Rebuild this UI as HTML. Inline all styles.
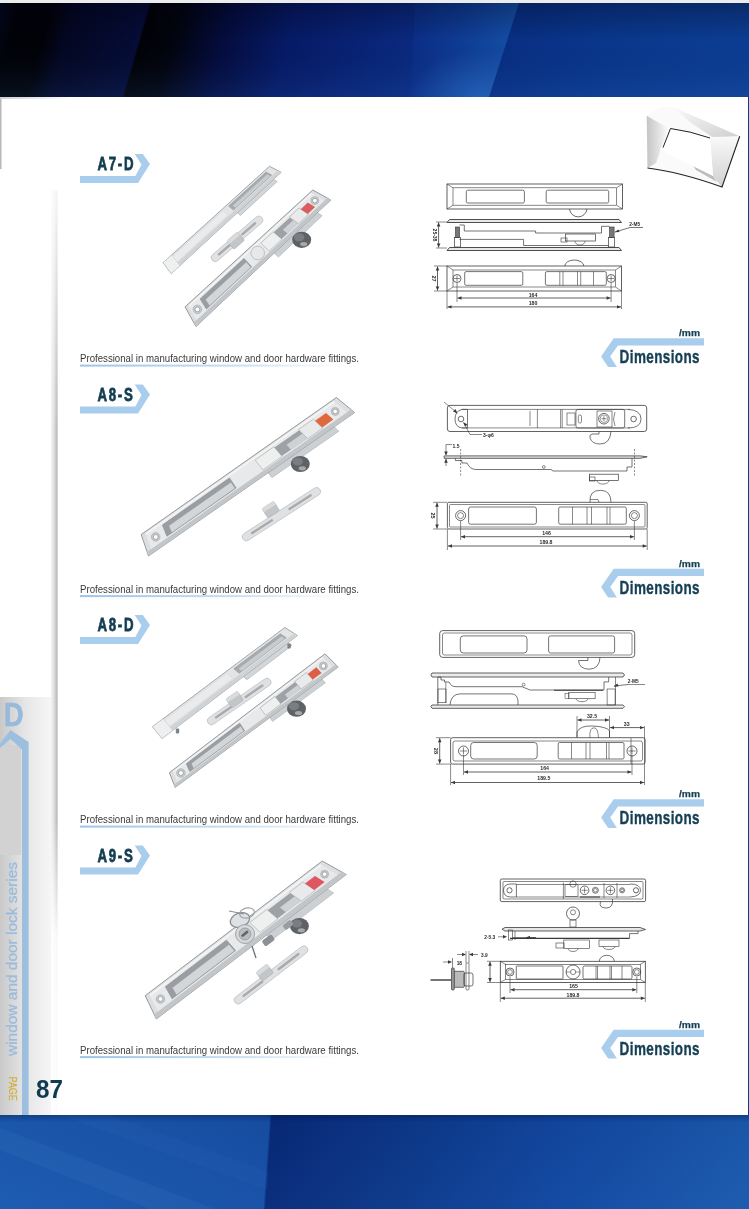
<!DOCTYPE html>
<html><head><meta charset="utf-8">
<style>
html,body{margin:0;padding:0;background:#fff;}
body{width:749px;height:1209px;overflow:hidden;position:relative;}
svg{position:absolute;left:0;top:0;display:block;font-family:"Liberation Sans",sans-serif;will-change:transform;}
</style></head><body>
<svg width="749" height="1209" viewBox="0 0 749 1209" font-family="Liberation Sans, sans-serif">
<defs>
  <linearGradient id="topg" gradientUnits="userSpaceOnUse" x1="0" y1="0" x2="777" y2="0" gradientTransform="skewX(-16)">
    <stop offset="0" stop-color="#040822"/>
    <stop offset="0.026" stop-color="#010207"/>
    <stop offset="0.07" stop-color="#010207"/>
    <stop offset="0.097" stop-color="#030722"/>
    <stop offset="0.193" stop-color="#050c36"/>
    <stop offset="0.196" stop-color="#010206"/>
    <stop offset="0.238" stop-color="#02040e"/>
    <stop offset="0.3" stop-color="#040c3c"/>
    <stop offset="0.386" stop-color="#061a66"/>
    <stop offset="0.553" stop-color="#0a2a80"/>
    <stop offset="0.667" stop-color="#0a2d84"/>
    <stop offset="0.669" stop-color="#082f84"/>
    <stop offset="0.8" stop-color="#0a378c"/>
    <stop offset="1" stop-color="#0c3e94"/>
  </linearGradient>
  <linearGradient id="toplite" gradientUnits="userSpaceOnUse" x1="405" y1="0" x2="519" y2="0">
    <stop offset="0" stop-color="#0a2c84"/>
    <stop offset="0.5" stop-color="#0e3c94"/>
    <stop offset="1" stop-color="#1550a8"/>
  </linearGradient>
  <radialGradient id="litehi">
    <stop offset="0" stop-color="#2d6fc4" stop-opacity="0.55"/>
    <stop offset="1" stop-color="#2d6fc4" stop-opacity="0"/>
  </radialGradient>
  <linearGradient id="topv" x1="0" y1="0" x2="0" y2="1">
    <stop offset="0" stop-color="#000010" stop-opacity="0.3"/>
    <stop offset="0.4" stop-color="#000010" stop-opacity="0"/>
    <stop offset="1" stop-color="#3a7ad0" stop-opacity="0.12"/>
  </linearGradient>
  <linearGradient id="botg" gradientUnits="userSpaceOnUse" x1="0" y1="0" x2="749" y2="0" gradientTransform="translate(0,1115) skewX(-4)">
    <stop offset="0" stop-color="#1c5ab0"/>
    <stop offset="0.2" stop-color="#1a55aa"/>
    <stop offset="0.36" stop-color="#1750a6"/>
    <stop offset="0.363" stop-color="#082a78"/>
    <stop offset="0.5" stop-color="#0c3585"/>
    <stop offset="0.75" stop-color="#1248a0"/>
    <stop offset="1" stop-color="#1c5aae"/>
  </linearGradient>
  <linearGradient id="botv" x1="0" y1="0" x2="0" y2="1">
    <stop offset="0" stop-color="#001040" stop-opacity="0.35"/>
    <stop offset="0.08" stop-color="#001040" stop-opacity="0.05"/>
    <stop offset="1" stop-color="#4080d0" stop-opacity="0.06"/>
  </linearGradient>
  <linearGradient id="gut" x1="0" y1="0" x2="1" y2="0">
    <stop offset="0" stop-color="#f2f2f2"/>
    <stop offset="0.4" stop-color="#e2e2e2"/>
    <stop offset="0.82" stop-color="#bcbcbc"/>
    <stop offset="1" stop-color="#e2e2e2"/>
  </linearGradient>
  <linearGradient id="gutfade" x1="0" y1="0" x2="0" y2="1">
    <stop offset="0" stop-color="#ffffff" stop-opacity="0.85"/>
    <stop offset="1" stop-color="#ffffff" stop-opacity="0"/>
  </linearGradient>
  <linearGradient id="gutfade2" x1="0" y1="0" x2="0" y2="1">
    <stop offset="0" stop-color="#ffffff" stop-opacity="0"/>
    <stop offset="0.4" stop-color="#ffffff" stop-opacity="0.9"/>
    <stop offset="1" stop-color="#ffffff" stop-opacity="0.95"/>
  </linearGradient>
  <linearGradient id="topline" x1="0" y1="0" x2="1" y2="0">
    <stop offset="0" stop-color="#cfcfcf"/>
    <stop offset="1" stop-color="#ffffff"/>
  </linearGradient>
  <linearGradient id="tab" x1="0" y1="0" x2="1" y2="0">
    <stop offset="0" stop-color="#c9c9c9"/>
    <stop offset="0.5" stop-color="#e6e6e6"/>
    <stop offset="1" stop-color="#f6f6f6"/>
  </linearGradient>
  <linearGradient id="uline" x1="0" y1="0" x2="1" y2="0">
    <stop offset="0" stop-color="#9cc4e8"/>
    <stop offset="0.6" stop-color="#c8def2"/>
    <stop offset="1" stop-color="#ffffff"/>
  </linearGradient>
  <linearGradient id="lgL" x1="0" y1="0" x2="1" y2="0">
    <stop offset="0" stop-color="#c4c4c4"/>
    <stop offset="1" stop-color="#fafafa"/>
  </linearGradient>
  <linearGradient id="lgT" x1="0" y1="0" x2="1" y2="1">
    <stop offset="0" stop-color="#fafafa"/>
    <stop offset="1" stop-color="#cfcfcf"/>
  </linearGradient>
  <linearGradient id="lgR" x1="0" y1="0" x2="0" y2="1">
    <stop offset="0" stop-color="#fafafa"/>
    <stop offset="1" stop-color="#d0d0d0"/>
  </linearGradient>
</defs>
<rect x="0" y="0" width="749" height="3" fill="#ececec"/>
<rect x="0" y="3" width="749" height="94" fill="url(#topg)"/>
<polygon points="415,3 519,3 489,97 411,97" fill="url(#toplite)"/>
<clipPath id="liteclip"><polygon points="415,3 519,3 489,97 411,97"/></clipPath>
<ellipse cx="480" cy="95" rx="70" ry="45" fill="url(#litehi)" clip-path="url(#liteclip)"/>
<rect x="0" y="3" width="749" height="94" fill="url(#topv)"/>
<rect x="0" y="97" width="748" height="1018" fill="#ffffff"/>
<rect x="748" y="97" width="1" height="1018" fill="#0b3a8e"/>
<rect x="0" y="1115" width="749" height="94" fill="url(#botg)"/>
<rect x="0" y="1115" width="749" height="94" fill="url(#botv)"/>
<polygon points="0,1128 0,1150 150,1209 215,1209" fill="#5a90d8" opacity="0.10"/>
<polygon points="60,1115 110,1115 269,1172 268,1190" fill="#5a90d8" opacity="0.06"/>
<rect x="0" y="97" width="1.5" height="72" fill="#b8b8b8"/>
<rect x="51" y="190" width="7" height="925" fill="url(#gut)"/>
<rect x="51" y="190" width="8" height="240" fill="url(#gutfade)"/>
<rect x="51" y="820" width="8" height="295" fill="url(#gutfade2)"/>
<rect x="0" y="97" width="70" height="2" fill="url(#topline)"/>
<rect x="0" y="697" width="51" height="418" fill="url(#tab)"/>
<rect x="0" y="745" width="21" height="110" fill="#d2d2d2"/>
<text x="4" y="725.7" font-weight="bold" font-size="32.5" fill="#96b9dc" stroke="#96b9dc" stroke-width="0.6" textLength="19.5" lengthAdjust="spacingAndGlyphs">D</text>
<polygon points="0,743.5 10.4,730 28.6,742 28.6,1115 22,1115 22,749.5 10.4,739 0,748" fill="#9dbfdf"/>
<text transform="translate(17.2,1056) rotate(-90)" font-size="15.5" fill="#98bbdd" stroke="#98bbdd" stroke-width="0.25" textLength="194" lengthAdjust="spacingAndGlyphs">window and door lock series</text>
<text transform="translate(9,1076.6) rotate(90)" font-size="11.5" fill="#d4ae38" stroke="#d4ae38" stroke-width="0.2" textLength="24.2" lengthAdjust="spacingAndGlyphs">PAGE</text>
<text x="36" y="1098" font-weight="bold" font-size="26" fill="#0f3b52" textLength="27" lengthAdjust="spacingAndGlyphs">87</text>

<g transform="translate(0,0)">
  <polygon points="80,176 135.4,176 141.5,164.5 134.7,154 142.8,154 150,164 138,183 80,183" fill="#a9cdec"/>
  <text x="80" y="362" font-size="10" fill="#3a3a3a" textLength="279" lengthAdjust="spacingAndGlyphs">Professional in manufacturing window and door hardware fittings.</text>
  <rect x="80" y="364.6" width="260" height="2" fill="url(#uline)"/>
  <polygon points="704,338.3 613.7,338.3 601.1,356.5 608.1,366.9 616.9,366.9 610.2,356.5 618,345.5 704,345.5" fill="#a9cdec"/>
  <text transform="translate(619.6,363) scale(0.745,1)" font-weight="bold" font-size="18.1" letter-spacing="0.55" fill="#163f55" stroke="#163f55" stroke-width="0.4">Dimensions</text>
  <text x="679" y="336" font-weight="bold" font-size="9.5" fill="#163f55" stroke="#163f55" stroke-width="0.25" textLength="21" lengthAdjust="spacingAndGlyphs">/mm</text>
</g>
<g transform="translate(0,230.5)">
  <polygon points="80,176 135.4,176 141.5,164.5 134.7,154 142.8,154 150,164 138,183 80,183" fill="#a9cdec"/>
  <text x="80" y="362" font-size="10" fill="#3a3a3a" textLength="279" lengthAdjust="spacingAndGlyphs">Professional in manufacturing window and door hardware fittings.</text>
  <rect x="80" y="364.6" width="260" height="2" fill="url(#uline)"/>
  <polygon points="704,338.3 613.7,338.3 601.1,356.5 608.1,366.9 616.9,366.9 610.2,356.5 618,345.5 704,345.5" fill="#a9cdec"/>
  <text transform="translate(619.6,363) scale(0.745,1)" font-weight="bold" font-size="18.1" letter-spacing="0.55" fill="#163f55" stroke="#163f55" stroke-width="0.4">Dimensions</text>
  <text x="679" y="336" font-weight="bold" font-size="9.5" fill="#163f55" stroke="#163f55" stroke-width="0.25" textLength="21" lengthAdjust="spacingAndGlyphs">/mm</text>
</g>
<g transform="translate(0,461)">
  <polygon points="80,176 135.4,176 141.5,164.5 134.7,154 142.8,154 150,164 138,183 80,183" fill="#a9cdec"/>
  <text x="80" y="362" font-size="10" fill="#3a3a3a" textLength="279" lengthAdjust="spacingAndGlyphs">Professional in manufacturing window and door hardware fittings.</text>
  <rect x="80" y="364.6" width="260" height="2" fill="url(#uline)"/>
  <polygon points="704,338.3 613.7,338.3 601.1,356.5 608.1,366.9 616.9,366.9 610.2,356.5 618,345.5 704,345.5" fill="#a9cdec"/>
  <text transform="translate(619.6,363) scale(0.745,1)" font-weight="bold" font-size="18.1" letter-spacing="0.55" fill="#163f55" stroke="#163f55" stroke-width="0.4">Dimensions</text>
  <text x="679" y="336" font-weight="bold" font-size="9.5" fill="#163f55" stroke="#163f55" stroke-width="0.25" textLength="21" lengthAdjust="spacingAndGlyphs">/mm</text>
</g>
<g transform="translate(0,691.5)">
  <polygon points="80,176 135.4,176 141.5,164.5 134.7,154 142.8,154 150,164 138,183 80,183" fill="#a9cdec"/>
  <text x="80" y="362" font-size="10" fill="#3a3a3a" textLength="279" lengthAdjust="spacingAndGlyphs">Professional in manufacturing window and door hardware fittings.</text>
  <rect x="80" y="364.6" width="260" height="2" fill="url(#uline)"/>
  <polygon points="704,338.3 613.7,338.3 601.1,356.5 608.1,366.9 616.9,366.9 610.2,356.5 618,345.5 704,345.5" fill="#a9cdec"/>
  <text transform="translate(619.6,363) scale(0.745,1)" font-weight="bold" font-size="18.1" letter-spacing="0.55" fill="#163f55" stroke="#163f55" stroke-width="0.4">Dimensions</text>
  <text x="679" y="336" font-weight="bold" font-size="9.5" fill="#163f55" stroke="#163f55" stroke-width="0.25" textLength="21" lengthAdjust="spacingAndGlyphs">/mm</text>
</g>
<g font-weight="bold" font-size="18" fill="#143d52" stroke="#143d52" stroke-width="0.75" letter-spacing="2.4">
  <text transform="translate(97.4,170) scale(0.735,1)">A7-D</text>
  <text transform="translate(97.4,400.5) scale(0.735,1)">A8-S</text>
  <text transform="translate(97.4,631) scale(0.735,1)">A8-D</text>
  <text transform="translate(97.4,862) scale(0.735,1)">A9-S</text>
</g>

<g>
  <polygon points="646.7,115.7 660,107 673,107 739.7,136.3 722,187 647.5,168" fill="#fafafa"/>
  <polygon points="673,107 739.7,136.3 712,137 690,122" fill="url(#lgT)"/>
  <polygon points="646.7,115.7 668,128 660,152 656,163 647.5,168" fill="url(#lgL)"/>
  <polygon points="710,138 739.7,136.3 722,187 713,176" fill="url(#lgR)"/>
  <polygon points="688,158 713,176 717,182 696,170" fill="#bdbdbd"/>
  <polygon points="670.5,128.5 710,138 713,176 660,150" fill="#ffffff"/>
  <path d="M647.5,168 Q680,172 722,187 L739.7,136.3" fill="none" stroke="#222" stroke-width="1.1"/>
  <path d="M663,147.6 L670.5,128.5 Q690,131 710,138" fill="none" stroke="#222" stroke-width="1"/>
</g>
<g><rect x="447.0" y="184.0" width="175.5" height="25.0" rx="0" fill="none" stroke="#3a3a3a" stroke-width="0.8"/><rect x="453.0" y="187.8" width="163.5" height="17.4" rx="0" fill="none" stroke="#3a3a3a" stroke-width="0.6"/><line x1="447.0" y1="184.0" x2="453.0" y2="187.8" stroke="#3a3a3a" stroke-width="0.6"/><line x1="622.5" y1="184.0" x2="616.5" y2="187.8" stroke="#3a3a3a" stroke-width="0.6"/><line x1="447.0" y1="209.0" x2="453.0" y2="205.2" stroke="#3a3a3a" stroke-width="0.6"/><line x1="622.5" y1="209.0" x2="616.5" y2="205.2" stroke="#3a3a3a" stroke-width="0.6"/><rect x="466.3" y="190.2" width="58.1" height="12.8" rx="1.5" fill="none" stroke="#3a3a3a" stroke-width="0.7"/><rect x="546.2" y="190.2" width="62.5" height="12.8" rx="1.5" fill="none" stroke="#3a3a3a" stroke-width="0.7"/><path d="M569.5,209 A8.8,8.8 0 0 0 587,209" fill="none" stroke="#3a3a3a" stroke-width="0.75"/><path d="M447,222.5 L449.5,219.5 L619,219.5 L621.5,222.5 Z" fill="#e8e8e8" stroke="#3a3a3a" stroke-width="0.9"/><path d="M447,250.5 L449.5,247.5 L619,247.5 L621.5,250.5 Z" fill="#e8e8e8" stroke="#3a3a3a" stroke-width="0.9"/><rect x="455.4" y="227.0" width="4.2" height="10.5" rx="0" fill="#777" stroke="#3a3a3a" stroke-width="0.6"/><rect x="454.5" y="237.5" width="6.0" height="9.5" rx="0" fill="none" stroke="#3a3a3a" stroke-width="0.7"/><rect x="609.5" y="227.0" width="4.6" height="10.5" rx="0" fill="#777" stroke="#3a3a3a" stroke-width="0.6"/><rect x="608.5" y="237.5" width="6.0" height="9.5" rx="0" fill="none" stroke="#3a3a3a" stroke-width="0.7"/><path d="M459.5,225 L464.3,225 L464.3,231 L535.6,231 L535.6,233 L601.5,233 L601.5,226.3 L609.5,226.3" fill="none" stroke="#3a3a3a" stroke-width="0.7"/><path d="M459.5,239.4 L523.6,239.4 L523.6,245.5 L608.5,245.5" fill="none" stroke="#3a3a3a" stroke-width="0.7"/><rect x="565.4" y="234.0" width="30.0" height="7.0" rx="0" fill="none" stroke="#3a3a3a" stroke-width="0.7"/><rect x="561.0" y="238.0" width="6.0" height="4.0" rx="0" fill="none" stroke="#3a3a3a" stroke-width="0.6"/><path d="M575,241 A5,4 0 0 0 585,241" fill="none" stroke="#3a3a3a" stroke-width="0.6"/><line x1="436.0" y1="222.0" x2="447.0" y2="222.0" stroke="#3a3a3a" stroke-width="0.6"/><line x1="436.0" y1="248.0" x2="447.0" y2="248.0" stroke="#3a3a3a" stroke-width="0.6"/><line x1="438.6" y1="222.5" x2="438.6" y2="247.5" stroke="#3a3a3a" stroke-width="0.8"/><polygon points="438.6,222.5 436.8,226.5 440.4,226.5" fill="#3a3a3a"/><polygon points="438.6,247.5 436.8,243.5 440.4,243.5" fill="#3a3a3a"/><text transform="translate(432.6,235.0) rotate(90)" font-size="5" font-weight="bold" text-anchor="middle" fill="#2a2a2a">25-38</text><line x1="615.0" y1="232.0" x2="630.0" y2="227.5" stroke="#3a3a3a" stroke-width="0.7"/><line x1="630.0" y1="227.5" x2="643.0" y2="227.5" stroke="#3a3a3a" stroke-width="0.7"/><polygon points="614.5,232.3 618.5,229.6 619.5,232" fill="#3a3a3a"/><text x="629.2" y="226.0" font-size="4.8" font-weight="bold" text-anchor="start" fill="#2a2a2a">2-M5</text><rect x="447.0" y="266.0" width="174.5" height="25.0" rx="0" fill="none" stroke="#3a3a3a" stroke-width="0.8"/><rect x="453.0" y="270.0" width="162.5" height="17.0" rx="0" fill="none" stroke="#3a3a3a" stroke-width="0.6"/><line x1="447.0" y1="266.0" x2="453.0" y2="270.0" stroke="#3a3a3a" stroke-width="0.6"/><line x1="621.5" y1="266.0" x2="615.5" y2="270.0" stroke="#3a3a3a" stroke-width="0.6"/><line x1="447.0" y1="291.0" x2="453.0" y2="287.0" stroke="#3a3a3a" stroke-width="0.6"/><line x1="621.5" y1="291.0" x2="615.5" y2="287.0" stroke="#3a3a3a" stroke-width="0.6"/><circle cx="457.0" cy="278.5" r="4.0" fill="none" stroke="#3a3a3a" stroke-width="0.75"/><line x1="454.0" y1="278.5" x2="460.0" y2="278.5" stroke="#3a3a3a" stroke-width="0.6"/><line x1="457.0" y1="275.5" x2="457.0" y2="281.5" stroke="#3a3a3a" stroke-width="0.6"/><circle cx="611.1" cy="278.5" r="4.0" fill="none" stroke="#3a3a3a" stroke-width="0.75"/><line x1="608.1" y1="278.5" x2="614.1" y2="278.5" stroke="#3a3a3a" stroke-width="0.6"/><line x1="611.1" y1="275.5" x2="611.1" y2="281.5" stroke="#3a3a3a" stroke-width="0.6"/><rect x="464.7" y="271.6" width="58.1" height="13.7" rx="1.5" fill="none" stroke="#3a3a3a" stroke-width="0.7"/><rect x="545.4" y="271.6" width="60.9" height="13.7" rx="1.5" fill="none" stroke="#3a3a3a" stroke-width="0.7"/><line x1="559.8" y1="271.6" x2="559.8" y2="285.3" stroke="#3a3a3a" stroke-width="0.6"/><line x1="563.0" y1="271.6" x2="563.0" y2="285.3" stroke="#3a3a3a" stroke-width="0.6"/><line x1="577.5" y1="271.6" x2="577.5" y2="285.3" stroke="#3a3a3a" stroke-width="0.6"/><line x1="580.7" y1="271.6" x2="580.7" y2="285.3" stroke="#3a3a3a" stroke-width="0.6"/><line x1="593.5" y1="271.6" x2="593.5" y2="285.3" stroke="#3a3a3a" stroke-width="0.6"/><path d="M564.8,266 A9.5,6 0 0 1 583.8,266" fill="none" stroke="#3a3a3a" stroke-width="0.75"/><line x1="434.0" y1="266.0" x2="447.0" y2="266.0" stroke="#3a3a3a" stroke-width="0.6"/><line x1="434.0" y1="291.0" x2="447.0" y2="291.0" stroke="#3a3a3a" stroke-width="0.6"/><line x1="437.5" y1="266.5" x2="437.5" y2="290.5" stroke="#3a3a3a" stroke-width="0.8"/><polygon points="437.5,266.5 435.7,270.5 439.3,270.5" fill="#3a3a3a"/><polygon points="437.5,290.5 435.7,286.5 439.3,286.5" fill="#3a3a3a"/><text transform="translate(431.5,278.5) rotate(90)" font-size="5.5" font-weight="bold" text-anchor="middle" fill="#2a2a2a">27</text><line x1="457.0" y1="283.0" x2="457.0" y2="302.0" stroke="#3a3a3a" stroke-width="0.6"/><line x1="611.1" y1="283.0" x2="611.1" y2="302.0" stroke="#3a3a3a" stroke-width="0.6"/><line x1="457.5" y1="298.0" x2="610.6" y2="298.0" stroke="#3a3a3a" stroke-width="0.8"/><polygon points="457.5,298.0 461.5,296.3 461.5,299.7" fill="#3a3a3a"/><polygon points="610.6,298.0 606.6,296.3 606.6,299.7" fill="#3a3a3a"/><text x="533.0" y="296.5" font-size="5.2" font-weight="bold" text-anchor="middle" fill="#2a2a2a">164</text><line x1="447.0" y1="291.0" x2="447.0" y2="309.0" stroke="#3a3a3a" stroke-width="0.6"/><line x1="621.5" y1="291.0" x2="621.5" y2="309.0" stroke="#3a3a3a" stroke-width="0.6"/><line x1="447.5" y1="306.9" x2="621.0" y2="306.9" stroke="#3a3a3a" stroke-width="0.8"/><polygon points="447.5,306.9 451.5,305.2 451.5,308.6" fill="#3a3a3a"/><polygon points="621.0,306.9 617.0,305.2 617.0,308.6" fill="#3a3a3a"/><text x="533.0" y="305.0" font-size="5.2" font-weight="bold" text-anchor="middle" fill="#2a2a2a">180</text><rect x="447.4" y="405.4" width="199.3" height="26.1" rx="2.5" fill="none" stroke="#3a3a3a" stroke-width="0.8"/><line x1="462.0" y1="409.4" x2="630.0" y2="409.4" stroke="#3a3a3a" stroke-width="0.6"/><line x1="462.0" y1="427.9" x2="630.0" y2="427.9" stroke="#3a3a3a" stroke-width="0.6"/><path d="M467.5,409.4 L462,409.4 Q455,411 455,419 Q455,427 462,428 L467.5,428 Z" fill="none" stroke="#3a3a3a" stroke-width="0.7"/><circle cx="461.0" cy="419.0" r="2.8" fill="none" stroke="#3a3a3a" stroke-width="0.75"/><path d="M628,409.4 Q641,410 641,419 Q641,428 628,428" fill="none" stroke="#3a3a3a" stroke-width="0.7"/><circle cx="633.6" cy="419.0" r="2.8" fill="none" stroke="#3a3a3a" stroke-width="0.75"/><line x1="530.0" y1="411.0" x2="530.0" y2="426.0" stroke="#3a3a3a" stroke-width="0.6"/><line x1="537.4" y1="409.4" x2="537.4" y2="428.0" stroke="#3a3a3a" stroke-width="0.6"/><line x1="560.6" y1="409.4" x2="560.6" y2="428.0" stroke="#3a3a3a" stroke-width="0.6"/><line x1="562.2" y1="409.4" x2="562.2" y2="428.0" stroke="#3a3a3a" stroke-width="0.6"/><rect x="567.0" y="413.0" width="8.0" height="12.0" rx="0" fill="none" stroke="#3a3a3a" stroke-width="0.6"/><rect x="575.9" y="409.4" width="48.8" height="18.6" rx="2" fill="none" stroke="#3a3a3a" stroke-width="0.7"/><rect x="578.3" y="415.0" width="3.2" height="8.0" rx="1.5" fill="none" stroke="#3a3a3a" stroke-width="0.6"/><rect x="597.0" y="411.0" width="15.0" height="16.0" rx="0" fill="none" stroke="#3a3a3a" stroke-width="0.6"/><circle cx="603.9" cy="418.7" r="5.3" fill="none" stroke="#3a3a3a" stroke-width="0.75"/><circle cx="603.9" cy="418.7" r="3.8" fill="none" stroke="#3a3a3a" stroke-width="0.5"/><line x1="601.4" y1="418.7" x2="606.4" y2="418.7" stroke="#3a3a3a" stroke-width="0.6"/><line x1="603.9" y1="416.2" x2="603.9" y2="421.2" stroke="#3a3a3a" stroke-width="0.6"/><path d="M615,412 Q612,419 615,426" fill="none" stroke="#3a3a3a" stroke-width="0.6"/><path d="M599,431.5 L599,434 L592,434 Q589,435 590,438 Q592,444 600,444 Q610,444 611,431.5" fill="none" stroke="#3a3a3a" stroke-width="0.7"/><line x1="444.0" y1="402.0" x2="456.0" y2="412.0" stroke="#3a3a3a" stroke-width="0.6"/><polygon points="457.5,413.5 453,411.5 455.5,409" fill="#3a3a3a"/><line x1="464.0" y1="423.0" x2="470.0" y2="434.5" stroke="#3a3a3a" stroke-width="0.6"/><line x1="470.0" y1="434.5" x2="482.0" y2="434.5" stroke="#3a3a3a" stroke-width="0.6"/><polygon points="463,422 467.5,424.5 465,426.5" fill="#3a3a3a"/><text x="483.0" y="437.0" font-size="5" font-weight="bold" text-anchor="start" fill="#2a2a2a">3-φ6</text><path d="M444.2,455.9 L640,455.9 L647.2,456.8 L640,458.3 L444.2,458.3 Z" fill="#e6e6e6" stroke="#3a3a3a" stroke-width="0.8"/><path d="M455.4,458.3 L455.4,460.5 L461.9,460.5 L461.9,463 L467,463 Q470,469.5 476,469.5 L551,469.5 L553,471 L627,471 L627,467 L632,467 L632,458.3" fill="none" stroke="#3a3a3a" stroke-width="0.7"/><path d="M460.6,449 L460.6,476" fill="none" stroke="#3a3a3a" stroke-width="0.6" stroke-dasharray="2,1.5"/><path d="M634.5,449 L634.5,476" fill="none" stroke="#3a3a3a" stroke-width="0.6" stroke-dasharray="2,1.5"/><circle cx="543.8" cy="467.0" r="1.4" fill="none" stroke="#3a3a3a" stroke-width="0.6"/><rect x="589.5" y="474.2" width="28.8" height="6.4" rx="0" fill="none" stroke="#3a3a3a" stroke-width="0.7"/><rect x="589.5" y="477.0" width="5.5" height="4.0" rx="0" fill="none" stroke="#3a3a3a" stroke-width="0.6"/><path d="M597,480.6 A6,3.5 0 0 0 609,480.6" fill="none" stroke="#3a3a3a" stroke-width="0.6"/><line x1="446.0" y1="449.0" x2="446.0" y2="455.0" stroke="#3a3a3a" stroke-width="0.6"/><polygon points="446.0,455.5 444.2,451.5 447.8,451.5" fill="#3a3a3a"/><line x1="446.0" y1="458.8" x2="446.0" y2="466.0" stroke="#3a3a3a" stroke-width="0.6"/><polygon points="446.0,458.8 444.2,462.8 447.8,462.8" fill="#3a3a3a"/><line x1="446.0" y1="444.5" x2="452.0" y2="444.5" stroke="#3a3a3a" stroke-width="0.6"/><line x1="446.0" y1="444.5" x2="446.0" y2="449.0" stroke="#3a3a3a" stroke-width="0.6"/><text x="452.5" y="447.5" font-size="5" font-weight="bold" text-anchor="start" fill="#2a2a2a">1.5</text><rect x="447.4" y="502.3" width="199.8" height="26.7" rx="1.5" fill="none" stroke="#3a3a3a" stroke-width="0.8"/><rect x="449.5" y="504.5" width="195.5" height="22.5" rx="1" fill="none" stroke="#3a3a3a" stroke-width="0.6"/><circle cx="460.6" cy="515.6" r="5.0" fill="none" stroke="#3a3a3a" stroke-width="0.75"/><circle cx="460.6" cy="515.6" r="3.0" fill="none" stroke="#3a3a3a" stroke-width="0.6"/><circle cx="634.4" cy="515.6" r="5.0" fill="none" stroke="#3a3a3a" stroke-width="0.75"/><circle cx="634.4" cy="515.6" r="3.0" fill="none" stroke="#3a3a3a" stroke-width="0.6"/><rect x="468.6" y="507.0" width="67.8" height="17.2" rx="2" fill="none" stroke="#3a3a3a" stroke-width="0.7"/><rect x="558.7" y="507.0" width="67.6" height="17.2" rx="1.5" fill="none" stroke="#3a3a3a" stroke-width="0.7"/><line x1="572.5" y1="507.0" x2="572.5" y2="524.2" stroke="#3a3a3a" stroke-width="0.6"/><line x1="587.0" y1="507.0" x2="587.0" y2="524.2" stroke="#3a3a3a" stroke-width="0.6"/><line x1="591.5" y1="507.0" x2="591.5" y2="524.2" stroke="#3a3a3a" stroke-width="0.6"/><line x1="607.0" y1="507.0" x2="607.0" y2="524.2" stroke="#3a3a3a" stroke-width="0.6"/><line x1="610.0" y1="507.0" x2="610.0" y2="524.2" stroke="#3a3a3a" stroke-width="0.6"/><path d="M590,502.3 Q589,490 600.7,490.3 Q611,490.5 611,502.3" fill="none" stroke="#3a3a3a" stroke-width="0.7"/><path d="M590,499.5 L598,499.5 L599,502.3" fill="none" stroke="#3a3a3a" stroke-width="0.6"/><line x1="433.0" y1="502.3" x2="447.0" y2="502.3" stroke="#3a3a3a" stroke-width="0.6"/><line x1="433.0" y1="529.0" x2="447.0" y2="529.0" stroke="#3a3a3a" stroke-width="0.6"/><line x1="437.0" y1="502.8" x2="437.0" y2="528.5" stroke="#3a3a3a" stroke-width="0.8"/><polygon points="437.0,502.8 435.2,506.8 438.8,506.8" fill="#3a3a3a"/><polygon points="437.0,528.5 435.2,524.5 438.8,524.5" fill="#3a3a3a"/><text transform="translate(431.0,515.6) rotate(90)" font-size="5.5" font-weight="bold" text-anchor="middle" fill="#2a2a2a">25</text><line x1="460.6" y1="521.0" x2="460.6" y2="540.0" stroke="#3a3a3a" stroke-width="0.6"/><line x1="634.4" y1="521.0" x2="634.4" y2="540.0" stroke="#3a3a3a" stroke-width="0.6"/><line x1="461.0" y1="536.7" x2="634.0" y2="536.7" stroke="#3a3a3a" stroke-width="0.8"/><polygon points="461.0,536.7 465.0,535.0 465.0,538.4" fill="#3a3a3a"/><polygon points="634.0,536.7 630.0,535.0 630.0,538.4" fill="#3a3a3a"/><text x="546.5" y="534.6" font-size="5.2" font-weight="bold" text-anchor="middle" fill="#2a2a2a">146</text><line x1="447.4" y1="529.0" x2="447.4" y2="550.0" stroke="#3a3a3a" stroke-width="0.6"/><line x1="647.2" y1="529.0" x2="647.2" y2="550.0" stroke="#3a3a3a" stroke-width="0.6"/><line x1="448.0" y1="546.0" x2="646.7" y2="546.0" stroke="#3a3a3a" stroke-width="0.8"/><polygon points="448.0,546.0 452.0,544.3 452.0,547.7" fill="#3a3a3a"/><polygon points="646.7,546.0 642.7,544.3 642.7,547.7" fill="#3a3a3a"/><text x="546.0" y="544.0" font-size="5.2" font-weight="bold" text-anchor="middle" fill="#2a2a2a">189.8</text><rect x="439.7" y="630.6" width="195.0" height="26.8" rx="3" fill="none" stroke="#3a3a3a" stroke-width="0.8"/><rect x="442.5" y="633.0" width="189.5" height="22.0" rx="2" fill="none" stroke="#3a3a3a" stroke-width="0.6"/><rect x="460.3" y="635.9" width="66.7" height="17.1" rx="3" fill="none" stroke="#3a3a3a" stroke-width="0.7"/><rect x="548.6" y="635.9" width="66.0" height="17.1" rx="2" fill="none" stroke="#3a3a3a" stroke-width="0.7"/><path d="M587.9,657.4 L587.9,660.5 L578.5,660.5 Q579,669 589,669.2 Q599.5,669 600,657.4" fill="none" stroke="#3a3a3a" stroke-width="0.7"/><path d="M432,673 L623,673 L624.5,675 L623,677 L432,677 Q429.8,675 432,673 Z" fill="#ececec" stroke="#3a3a3a" stroke-width="0.8"/><path d="M432,705 L623,705 L624.5,706.6 L623,708.3 L432,708.3 Q429.8,706.6 432,705 Z" fill="#ececec" stroke="#3a3a3a" stroke-width="0.8"/><line x1="437.8" y1="677.0" x2="437.8" y2="705.0" stroke="#3a3a3a" stroke-width="0.7"/><rect x="438.0" y="689.0" width="8.0" height="13.7" rx="0" fill="none" stroke="#3a3a3a" stroke-width="0.6"/><path d="M438,677 L441,677 L441,680 L444.5,680 L444.5,682 L449,682 Q451,686.7 456,686.7 L522,686.7 L530,690 L604,690 L604,681.9 L608.7,681.9 L608.7,677" fill="none" stroke="#3a3a3a" stroke-width="0.7"/><line x1="445.8" y1="682.0" x2="445.8" y2="703.0" stroke="#3a3a3a" stroke-width="0.6"/><circle cx="523.6" cy="684.6" r="1.4" fill="none" stroke="#3a3a3a" stroke-width="0.6"/><path d="M450,705 Q451,694 460,693.9 L512,693.9 Q518,694.5 518,702 L518,705" fill="none" stroke="#3a3a3a" stroke-width="0.7"/><line x1="554.0" y1="690.3" x2="603.0" y2="690.3" stroke="#3a3a3a" stroke-width="1.1"/><rect x="568.7" y="692.3" width="26.4" height="6.4" rx="0" fill="none" stroke="#3a3a3a" stroke-width="0.6"/><rect x="565.0" y="693.5" width="4.0" height="5.0" rx="0" fill="none" stroke="#3a3a3a" stroke-width="0.5"/><path d="M576,698.7 A6,3 0 0 0 588,698.7" fill="none" stroke="#3a3a3a" stroke-width="0.6"/><rect x="607.1" y="689.0" width="8.0" height="16.0" rx="0" fill="none" stroke="#3a3a3a" stroke-width="0.6"/><line x1="615.5" y1="677.0" x2="615.5" y2="705.0" stroke="#3a3a3a" stroke-width="0.6"/><line x1="614.0" y1="686.0" x2="628.0" y2="684.5" stroke="#3a3a3a" stroke-width="0.7"/><line x1="628.0" y1="684.5" x2="645.0" y2="684.5" stroke="#3a3a3a" stroke-width="0.6"/><polygon points="613.5,686.5 617.5,683.5 618.5,686.5" fill="#3a3a3a"/><text x="627.8" y="683.0" font-size="4.8" font-weight="bold" text-anchor="start" fill="#2a2a2a">2-M5</text><rect x="450.6" y="737.7" width="194.5" height="26.4" rx="2" fill="none" stroke="#3a3a3a" stroke-width="0.8"/><rect x="453.0" y="741.0" width="189.5" height="20.0" rx="2" fill="none" stroke="#3a3a3a" stroke-width="0.6"/><line x1="631.0" y1="738.0" x2="631.0" y2="764.0" stroke="#3a3a3a" stroke-width="0.6"/><circle cx="463.5" cy="751.0" r="5.0" fill="none" stroke="#3a3a3a" stroke-width="0.75"/><line x1="460.0" y1="751.0" x2="467.0" y2="751.0" stroke="#3a3a3a" stroke-width="0.6"/><line x1="463.5" y1="747.5" x2="463.5" y2="754.5" stroke="#3a3a3a" stroke-width="0.6"/><circle cx="632.0" cy="751.0" r="5.0" fill="none" stroke="#3a3a3a" stroke-width="0.75"/><line x1="628.5" y1="751.0" x2="635.5" y2="751.0" stroke="#3a3a3a" stroke-width="0.6"/><line x1="632.0" y1="747.5" x2="632.0" y2="754.5" stroke="#3a3a3a" stroke-width="0.6"/><rect x="470.7" y="742.5" width="66.5" height="16.5" rx="3" fill="none" stroke="#3a3a3a" stroke-width="0.7"/><rect x="558.2" y="742.5" width="65.8" height="16.5" rx="1.5" fill="none" stroke="#3a3a3a" stroke-width="0.7"/><line x1="571.5" y1="742.5" x2="571.5" y2="759.0" stroke="#3a3a3a" stroke-width="0.6"/><line x1="586.0" y1="742.5" x2="586.0" y2="759.0" stroke="#3a3a3a" stroke-width="0.6"/><line x1="590.0" y1="742.5" x2="590.0" y2="759.0" stroke="#3a3a3a" stroke-width="0.6"/><line x1="606.5" y1="742.5" x2="606.5" y2="759.0" stroke="#3a3a3a" stroke-width="0.6"/><line x1="609.0" y1="742.5" x2="609.0" y2="759.0" stroke="#3a3a3a" stroke-width="0.6"/><path d="M577,737.7 L577,732 Q580,725.5 592,726 Q607,726.5 609.5,731 L609.5,737.7" fill="none" stroke="#3a3a3a" stroke-width="0.7"/><path d="M590,737.7 Q589,728 594,727.8 Q598,728 598.5,737.7" fill="none" stroke="#3a3a3a" stroke-width="0.6"/><line x1="436.0" y1="737.7" x2="450.6" y2="737.7" stroke="#3a3a3a" stroke-width="0.6"/><line x1="436.0" y1="764.1" x2="450.6" y2="764.1" stroke="#3a3a3a" stroke-width="0.6"/><line x1="439.7" y1="738.2" x2="439.7" y2="763.6" stroke="#3a3a3a" stroke-width="0.8"/><polygon points="439.7,738.2 437.9,742.2 441.5,742.2" fill="#3a3a3a"/><polygon points="439.7,763.6 437.9,759.6 441.5,759.6" fill="#3a3a3a"/><text transform="translate(433.7,750.9) rotate(90)" font-size="5.5" font-weight="bold" text-anchor="middle" fill="#2a2a2a">28</text><line x1="463.5" y1="755.0" x2="463.5" y2="775.0" stroke="#3a3a3a" stroke-width="0.6"/><line x1="632.0" y1="755.0" x2="632.0" y2="775.0" stroke="#3a3a3a" stroke-width="0.6"/><line x1="464.0" y1="772.0" x2="631.5" y2="772.0" stroke="#3a3a3a" stroke-width="0.8"/><polygon points="464.0,772.0 468.0,770.3 468.0,773.7" fill="#3a3a3a"/><polygon points="631.5,772.0 627.5,770.3 627.5,773.7" fill="#3a3a3a"/><text x="544.6" y="770.3" font-size="5.2" font-weight="bold" text-anchor="middle" fill="#2a2a2a">164</text><line x1="450.6" y1="764.0" x2="450.6" y2="785.0" stroke="#3a3a3a" stroke-width="0.6"/><line x1="644.5" y1="726.0" x2="644.5" y2="785.0" stroke="#3a3a3a" stroke-width="0.6"/><line x1="451.0" y1="782.5" x2="644.0" y2="782.5" stroke="#3a3a3a" stroke-width="0.8"/><polygon points="451.0,782.5 455.0,780.8 455.0,784.2" fill="#3a3a3a"/><polygon points="644.0,782.5 640.0,780.8 640.0,784.2" fill="#3a3a3a"/><text x="543.8" y="780.3" font-size="5.2" font-weight="bold" text-anchor="middle" fill="#2a2a2a">189.5</text><line x1="577.0" y1="716.0" x2="577.0" y2="737.0" stroke="#3a3a3a" stroke-width="0.6"/><line x1="609.5" y1="716.0" x2="609.5" y2="737.0" stroke="#3a3a3a" stroke-width="0.6"/><line x1="577.5" y1="720.0" x2="609.0" y2="720.0" stroke="#3a3a3a" stroke-width="0.8"/><polygon points="577.5,720.0 581.5,718.3 581.5,721.7" fill="#3a3a3a"/><polygon points="609.0,720.0 605.0,718.3 605.0,721.7" fill="#3a3a3a"/><text x="592.0" y="717.6" font-size="5.2" font-weight="bold" text-anchor="middle" fill="#2a2a2a">32.5</text><line x1="610.0" y1="727.6" x2="644.0" y2="727.6" stroke="#3a3a3a" stroke-width="0.8"/><polygon points="610.0,727.6 614.0,725.9 614.0,729.3" fill="#3a3a3a"/><polygon points="644.0,727.6 640.0,725.9 640.0,729.3" fill="#3a3a3a"/><text x="626.7" y="725.5" font-size="5.2" font-weight="bold" text-anchor="middle" fill="#2a2a2a">33</text><rect x="500.3" y="879.0" width="145.3" height="22.6" rx="1.5" fill="none" stroke="#3a3a3a" stroke-width="0.8"/><rect x="503.0" y="881.5" width="140.0" height="17.5" rx="1" fill="none" stroke="#3a3a3a" stroke-width="0.6"/><line x1="516.4" y1="884.5" x2="630.0" y2="884.5" stroke="#3a3a3a" stroke-width="0.6"/><line x1="516.4" y1="897.0" x2="630.0" y2="897.0" stroke="#3a3a3a" stroke-width="0.6"/><path d="M516.4,884 L510,884 Q503.5,884.5 503.5,890.3 Q503.5,896.5 510,897 L516.4,897 Z" fill="none" stroke="#3a3a3a" stroke-width="0.7"/><circle cx="509.5" cy="890.3" r="2.6" fill="none" stroke="#3a3a3a" stroke-width="0.75"/><path d="M630,884 Q640.5,884 640.5,890.3 Q640.5,896.5 630,897" fill="none" stroke="#3a3a3a" stroke-width="0.7"/><circle cx="636.0" cy="890.3" r="2.6" fill="none" stroke="#3a3a3a" stroke-width="0.75"/><line x1="563.4" y1="882.5" x2="563.4" y2="899.0" stroke="#3a3a3a" stroke-width="0.6"/><rect x="565.0" y="884.5" width="13.0" height="12.0" rx="1" fill="none" stroke="#3a3a3a" stroke-width="0.6"/><circle cx="573.0" cy="884.0" r="3.2" fill="none" stroke="#3a3a3a" stroke-width="0.6"/><circle cx="584.6" cy="890.3" r="4.3" fill="none" stroke="#3a3a3a" stroke-width="0.75"/><line x1="581.6" y1="890.3" x2="587.6" y2="890.3" stroke="#3a3a3a" stroke-width="0.6"/><line x1="584.6" y1="887.3" x2="584.6" y2="893.3" stroke="#3a3a3a" stroke-width="0.6"/><circle cx="595.4" cy="890.3" r="3.0" fill="none" stroke="#3a3a3a" stroke-width="0.7"/><circle cx="595.4" cy="890.3" r="1.8" fill="none" stroke="#3a3a3a" stroke-width="0.6"/><line x1="604.0" y1="883.0" x2="604.0" y2="898.0" stroke="#3a3a3a" stroke-width="0.6"/><line x1="617.0" y1="883.0" x2="617.0" y2="898.0" stroke="#3a3a3a" stroke-width="0.6"/><circle cx="610.4" cy="890.3" r="4.3" fill="none" stroke="#3a3a3a" stroke-width="0.75"/><line x1="607.4" y1="890.3" x2="613.4" y2="890.3" stroke="#3a3a3a" stroke-width="0.6"/><line x1="610.4" y1="887.3" x2="610.4" y2="893.3" stroke="#3a3a3a" stroke-width="0.6"/><circle cx="622.1" cy="890.3" r="2.5" fill="none" stroke="#3a3a3a" stroke-width="0.7"/><circle cx="622.1" cy="890.3" r="1.4" fill="none" stroke="#3a3a3a" stroke-width="0.6"/><line x1="580.0" y1="897.0" x2="600.0" y2="897.0" stroke="#3a3a3a" stroke-width="1.0"/><path d="M600.5,901.6 Q598.5,908 606,908 Q613.5,908 612.5,899" fill="none" stroke="#3a3a3a" stroke-width="0.7"/><circle cx="573.0" cy="913.5" r="6.5" fill="none" stroke="#3a3a3a" stroke-width="0.75"/><circle cx="573.0" cy="912.3" r="2.5" fill="none" stroke="#3a3a3a" stroke-width="0.6"/><rect x="570.0" y="920.0" width="6.0" height="7.0" rx="0" fill="none" stroke="#3a3a3a" stroke-width="0.6"/><path d="M502,929.2 L505,927.5 L640,927.5 L645.5,929.5 L640,931 L505,931 Z" fill="#e6e6e6" stroke="#3a3a3a" stroke-width="0.8"/><path d="M638,931 L638,933.6 L629.5,933.6 L629.5,938.4" fill="none" stroke="#3a3a3a" stroke-width="0.7"/><line x1="510.0" y1="938.4" x2="629.5" y2="938.4" stroke="#3a3a3a" stroke-width="1.1"/><rect x="563.8" y="940.0" width="25.7" height="8.5" rx="0" fill="none" stroke="#3a3a3a" stroke-width="0.6"/><rect x="556.0" y="943.0" width="8.0" height="5.0" rx="0" fill="none" stroke="#3a3a3a" stroke-width="0.6"/><path d="M568,948.5 A5,3 0 0 0 578,948.5" fill="none" stroke="#3a3a3a" stroke-width="0.6"/><rect x="599.0" y="940.0" width="20.0" height="6.5" rx="0" fill="none" stroke="#3a3a3a" stroke-width="0.6"/><path d="M603,946.5 A6,3 0 0 0 615,946.5" fill="none" stroke="#3a3a3a" stroke-width="0.6"/><rect x="508.5" y="930.0" width="4.0" height="10.0" rx="0" fill="none" stroke="#3a3a3a" stroke-width="0.6"/><line x1="515.0" y1="931.0" x2="515.0" y2="940.0" stroke="#3a3a3a" stroke-width="0.6"/><line x1="512.5" y1="937.5" x2="536.0" y2="937.5" stroke="#3a3a3a" stroke-width="0.6"/><line x1="498.0" y1="936.8" x2="505.0" y2="936.8" stroke="#3a3a3a" stroke-width="0.6"/><polygon points="507.0,936.8 503.0,935.1 503.0,938.5" fill="#3a3a3a"/><polygon points="526.0,937.5 530.0,935.8 530.0,939.2" fill="#3a3a3a"/><line x1="526.0" y1="937.5" x2="536.0" y2="937.5" stroke="#3a3a3a" stroke-width="0.6"/><text x="484.3" y="938.5" font-size="4.8" font-weight="bold" text-anchor="start" fill="#2a2a2a">2-5.3</text><rect x="453.8" y="971.3" width="10.5" height="16.0" rx="1" fill="#bbb" stroke="#3a3a3a" stroke-width="0.7"/><rect x="451.5" y="968.0" width="2.8" height="22.0" rx="1" fill="#999" stroke="#3a3a3a" stroke-width="0.7"/><line x1="430.5" y1="980.0" x2="451.0" y2="980.0" stroke="#3a3a3a" stroke-width="1.4"/><rect x="464.0" y="973.0" width="9.0" height="13.0" rx="2" fill="none" stroke="#3a3a3a" stroke-width="0.7"/><rect x="466.0" y="963.0" width="3.0" height="27.0" rx="1" fill="none" stroke="#3a3a3a" stroke-width="0.6"/><line x1="452.5" y1="958.0" x2="452.5" y2="968.0" stroke="#3a3a3a" stroke-width="0.6"/><line x1="443.0" y1="962.0" x2="451.0" y2="962.0" stroke="#3a3a3a" stroke-width="0.6"/><polygon points="452.0,962.0 448.0,960.3 448.0,963.7" fill="#3a3a3a"/><text x="456.7" y="964.5" font-size="4.8" font-weight="bold" text-anchor="start" fill="#2a2a2a">18</text><line x1="466.0" y1="951.0" x2="466.0" y2="963.0" stroke="#3a3a3a" stroke-width="0.6"/><line x1="469.0" y1="951.0" x2="469.0" y2="963.0" stroke="#3a3a3a" stroke-width="0.6"/><line x1="457.0" y1="954.5" x2="465.0" y2="954.5" stroke="#3a3a3a" stroke-width="0.6"/><polygon points="466.0,954.5 462.0,952.8 462.0,956.2" fill="#3a3a3a"/><line x1="470.0" y1="954.5" x2="478.0" y2="954.5" stroke="#3a3a3a" stroke-width="0.6"/><polygon points="469.0,954.5 473.0,952.8 473.0,956.2" fill="#3a3a3a"/><text x="481.0" y="956.8" font-size="4.8" font-weight="bold" text-anchor="start" fill="#2a2a2a">3.9</text><rect x="500.3" y="961.3" width="145.0" height="21.2" rx="0" fill="none" stroke="#3a3a3a" stroke-width="0.8"/><rect x="505.3" y="964.3" width="135.0" height="15.2" rx="0" fill="none" stroke="#3a3a3a" stroke-width="0.6"/><line x1="500.3" y1="961.3" x2="505.3" y2="964.3" stroke="#3a3a3a" stroke-width="0.6"/><line x1="645.3" y1="961.3" x2="640.3" y2="964.3" stroke="#3a3a3a" stroke-width="0.6"/><line x1="500.3" y1="982.5" x2="505.3" y2="979.5" stroke="#3a3a3a" stroke-width="0.6"/><line x1="645.3" y1="982.5" x2="640.3" y2="979.5" stroke="#3a3a3a" stroke-width="0.6"/><circle cx="510.0" cy="972.0" r="4.0" fill="none" stroke="#3a3a3a" stroke-width="0.75"/><circle cx="510.0" cy="972.0" r="2.4" fill="none" stroke="#3a3a3a" stroke-width="0.6"/><circle cx="636.8" cy="972.0" r="4.0" fill="none" stroke="#3a3a3a" stroke-width="0.75"/><circle cx="636.8" cy="972.0" r="2.4" fill="none" stroke="#3a3a3a" stroke-width="0.6"/><rect x="516.3" y="966.0" width="46.7" height="13.0" rx="0.5" fill="none" stroke="#3a3a3a" stroke-width="0.7"/><circle cx="573.1" cy="972.0" r="7.0" fill="none" stroke="#3a3a3a" stroke-width="0.75"/><circle cx="573.1" cy="972.0" r="2.6" fill="none" stroke="#3a3a3a" stroke-width="0.6"/><line x1="566.0" y1="972.0" x2="570.5" y2="972.0" stroke="#3a3a3a" stroke-width="0.5"/><line x1="575.7" y1="972.0" x2="580.0" y2="972.0" stroke="#3a3a3a" stroke-width="0.5"/><rect x="583.0" y="966.0" width="49.0" height="13.0" rx="1.5" fill="none" stroke="#3a3a3a" stroke-width="0.7"/><line x1="596.0" y1="966.0" x2="596.0" y2="979.0" stroke="#3a3a3a" stroke-width="0.6"/><line x1="597.5" y1="966.0" x2="597.5" y2="979.0" stroke="#3a3a3a" stroke-width="0.6"/><line x1="610.0" y1="966.0" x2="610.0" y2="979.0" stroke="#3a3a3a" stroke-width="0.6"/><line x1="611.5" y1="966.0" x2="611.5" y2="979.0" stroke="#3a3a3a" stroke-width="0.6"/><line x1="622.0" y1="966.0" x2="622.0" y2="979.0" stroke="#3a3a3a" stroke-width="0.6"/><path d="M599.3,961.3 A7.5,6 0 0 1 614.3,961.3" fill="none" stroke="#3a3a3a" stroke-width="0.7"/><line x1="487.0" y1="961.3" x2="500.3" y2="961.3" stroke="#3a3a3a" stroke-width="0.6"/><line x1="487.0" y1="982.5" x2="500.3" y2="982.5" stroke="#3a3a3a" stroke-width="0.6"/><line x1="490.0" y1="961.8" x2="490.0" y2="982.0" stroke="#3a3a3a" stroke-width="0.8"/><polygon points="490.0,961.8 488.2,965.8 491.8,965.8" fill="#3a3a3a"/><polygon points="490.0,982.0 488.2,978.0 491.8,978.0" fill="#3a3a3a"/><line x1="510.0" y1="977.0" x2="510.0" y2="993.0" stroke="#3a3a3a" stroke-width="0.6"/><line x1="636.8" y1="977.0" x2="636.8" y2="993.0" stroke="#3a3a3a" stroke-width="0.6"/><line x1="510.5" y1="989.7" x2="636.3" y2="989.7" stroke="#3a3a3a" stroke-width="0.8"/><polygon points="510.5,989.7 514.5,988.0 514.5,991.4" fill="#3a3a3a"/><polygon points="636.3,989.7 632.3,988.0 632.3,991.4" fill="#3a3a3a"/><text x="573.5" y="988.2" font-size="5.2" font-weight="bold" text-anchor="middle" fill="#2a2a2a">165</text><line x1="500.3" y1="982.5" x2="500.3" y2="1002.0" stroke="#3a3a3a" stroke-width="0.6"/><line x1="645.3" y1="982.5" x2="645.3" y2="1002.0" stroke="#3a3a3a" stroke-width="0.6"/><line x1="500.8" y1="998.2" x2="644.8" y2="998.2" stroke="#3a3a3a" stroke-width="0.8"/><polygon points="500.8,998.2 504.8,996.5 504.8,999.9" fill="#3a3a3a"/><polygon points="644.8,998.2 640.8,996.5 640.8,999.9" fill="#3a3a3a"/><text x="573.0" y="996.8" font-size="5.2" font-weight="bold" text-anchor="middle" fill="#2a2a2a">189.8</text></g>
<g><polygon points="237.2,212.8 273.5,179.4 277.2,181.4 240.5,215.4" fill="#d3d6d8" stroke="#a5a9ac" stroke-width="0.6" /><polygon points="163.1,262.7 269.5,166.3 281.2,172.3 171.2,273.6" fill="#e2e4e5" stroke="#8f9397" stroke-width="0.8" /><polygon points="168.9,270.5 277.9,170.6 281.2,172.3 171.2,273.6" fill="#d0d3d5" stroke="none" stroke-width="0.5" /><polygon points="228.6,206.1 266.0,172.1 271.6,175.1 233.5,210.0" fill="#a7abae" stroke="#8d9195" stroke-width="0.5" /><polygon points="232.8,205.8 267.3,174.3 270.2,176.0 235.5,207.8" fill="#c9ccce" stroke="none" stroke-width="0.5" /><polygon points="163.1,262.7 171.6,255.0 180.0,265.5 171.2,273.6" fill="#eef0f0" stroke="#b5b8bb" stroke-width="0.4" /><polygon points="172.6,256.2 222.8,210.7 228.3,215.1 177.1,261.9" fill="#e9ebec" stroke="#cfd2d4" stroke-width="0.4" /><g transform="translate(214.5,258.2) rotate(-40.7)"><rect x="-3" y="-4.0" width="65.4" height="8" rx="4.0" fill="#dfe1e3" stroke="#b3b6b9" stroke-width="0.6"/><rect x="4.7" y="-1.2" width="17.8" height="2.4" rx="1" fill="#a7abae"/><rect x="35.6" y="-1.2" width="19.0" height="2.4" rx="1" fill="#a7abae"/></g><g transform="translate(236.0,241.0) rotate(-40.7)"><rect x="-7" y="-6" width="14" height="11" rx="1.5" fill="#c3c6c9" stroke="#a7abae" stroke-width="0.5"/><rect x="-7" y="-6" width="14" height="4" fill="#d9dbdd"/></g><polygon points="272.7,251.7 315.6,211.6 322.2,215.7 278.4,257.1" fill="#cdd0d3" stroke="#aeb1b4" stroke-width="0.6" /><ellipse cx="301.7" cy="239.8" rx="9.5" ry="8.1" fill="#5e6266"/><ellipse cx="299.2" cy="237.3" rx="5.2" ry="4.0" fill="#7a7e82"/><ellipse cx="303.7" cy="244.1" rx="3.6" ry="2.1" fill="#ffffff" opacity="0.45"/><polygon points="185.0,306.9 312.8,190.0 330.8,200.0 196.0,326.5" fill="#dcdee0" stroke="#8c9094" stroke-width="0.9" /><polygon points="193.8,322.6 327.2,198.0 330.8,200.0 196.0,326.5" fill="#c3c6c9" stroke="none" stroke-width="0.5" /><polygon points="188.2,305.7 311.3,192.9 324.5,200.5 196.5,320.1" fill="#e7e9ea" stroke="none" stroke-width="0.5" /><polygon points="188.2,305.7 311.3,192.9 312.7,193.8 189.1,307.3" fill="#f3f4f4" stroke="none" stroke-width="0.5" /><polygon points="200.1,298.9 244.0,258.5 251.7,266.8 206.4,309.0" fill="#9a9ea2" stroke="#85898d" stroke-width="0.6" /><polygon points="205.7,299.6 246.2,262.2 250.7,267.2 209.5,305.5" fill="#d3d6d8" stroke="none" stroke-width="0.5" /><circle cx="197.4" cy="309.4" r="4.3" fill="#c9cccf" stroke="#a3a7aa" stroke-width="0.6"/><circle cx="197.4" cy="309.4" r="2.4" fill="#ffffff" stroke="#7f8387" stroke-width="0.6"/><circle cx="314.8" cy="200.6" r="4.0" fill="#c9cccf" stroke="#a3a7aa" stroke-width="0.6"/><circle cx="314.8" cy="200.6" r="2.3" fill="#ffffff" stroke="#7f8387" stroke-width="0.6"/><circle cx="257.7" cy="253.0" r="6.8" fill="#e6e8e9" stroke="#b5b8bb" stroke-width="0.8"/><polygon points="260.8,243.1 273.1,231.8 281.9,239.2 269.2,251.0" fill="#eeefef" stroke="#a5a9ac" stroke-width="0.6" /><polygon points="273.7,232.3 289.9,217.4 298.2,223.4 281.6,238.9" fill="#9ea2a6" stroke="none" stroke-width="0.5" /><polygon points="282.9,229.7 293.4,220.0 298.2,223.4 287.6,233.4" fill="#cfd2d4" stroke="none" stroke-width="0.5" /><polygon points="289.3,217.0 299.0,208.0 308.5,214.4 298.5,223.7" fill="#e9eaeb" stroke="#a5a9ac" stroke-width="0.6" /><polygon points="300.7,209.2 307.8,202.6 315.1,207.1 307.8,213.9" fill="#d95f5f" stroke="none" stroke-width="0.5" /><polygon points="266.7,471.0 332.4,425.3 338.9,431.2 271.9,477.7" fill="#cdd0d3" stroke="#aeb1b4" stroke-width="0.6" /><ellipse cx="300.3" cy="464.0" rx="9.5" ry="8.1" fill="#5e6266"/><ellipse cx="297.8" cy="461.5" rx="5.2" ry="4.0" fill="#7a7e82"/><ellipse cx="302.3" cy="468.3" rx="3.6" ry="2.1" fill="#ffffff" opacity="0.45"/><polygon points="141.2,534.5 336.4,397.5 354.7,412.5 148.5,556.0" fill="#dcdee0" stroke="#8c9094" stroke-width="0.9" /><polygon points="147.0,551.7 351.0,409.5 354.7,412.5 148.5,556.0" fill="#c3c6c9" stroke="none" stroke-width="0.5" /><polygon points="145.6,533.0 333.6,401.1 347.0,412.3 151.1,548.9" fill="#e7e9ea" stroke="none" stroke-width="0.5" /><polygon points="145.6,533.0 333.6,401.1 335.0,402.4 146.2,534.8" fill="#f3f4f4" stroke="none" stroke-width="0.5" /><polygon points="162.4,525.0 229.5,477.9 236.1,488.0 166.9,536.2" fill="#9a9ea2" stroke="#85898d" stroke-width="0.6" /><polygon points="169.1,525.7 230.9,482.4 234.8,488.3 171.8,532.3" fill="#d3d6d8" stroke="none" stroke-width="0.5" /><circle cx="155.7" cy="536.9" r="4.3" fill="#c9cccf" stroke="#a3a7aa" stroke-width="0.6"/><circle cx="155.7" cy="536.9" r="2.4" fill="#ffffff" stroke="#7f8387" stroke-width="0.6"/><circle cx="335.2" cy="411.4" r="4.0" fill="#c9cccf" stroke="#a3a7aa" stroke-width="0.6"/><circle cx="335.2" cy="411.4" r="2.3" fill="#ffffff" stroke="#7f8387" stroke-width="0.6"/><polygon points="255.2,460.0 273.9,446.8 282.1,456.4 262.8,469.9" fill="#eeefef" stroke="#a5a9ac" stroke-width="0.6" /><polygon points="274.5,447.5 299.2,430.2 307.2,438.4 281.8,456.1" fill="#9ea2a6" stroke="none" stroke-width="0.5" /><polygon points="286.6,444.8 302.6,433.6 307.2,438.4 291.0,449.7" fill="#cfd2d4" stroke="none" stroke-width="0.5" /><polygon points="298.6,429.5 313.4,419.2 322.8,428.1 307.6,438.7" fill="#e9eaeb" stroke="#a5a9ac" stroke-width="0.6" /><polygon points="315.1,420.8 326.0,413.1 333.3,419.6 322.2,427.4" fill="#e0683f" stroke="none" stroke-width="0.5" /><g transform="translate(245.4,537.4) rotate(-32.8)"><rect x="-3" y="-4.0" width="91.7" height="8" rx="4.0" fill="#dfe1e3" stroke="#b3b6b9" stroke-width="0.6"/><rect x="6.9" y="-1.2" width="25.7" height="2.4" rx="1" fill="#a7abae"/><rect x="51.4" y="-1.2" width="27.4" height="2.4" rx="1" fill="#a7abae"/></g><g transform="translate(271.0,510.0) rotate(-32.8)"><rect x="-7" y="-6" width="14" height="11" rx="1.5" fill="#c3c6c9" stroke="#a7abae" stroke-width="0.5"/><rect x="-7" y="-6" width="14" height="4" fill="#d9dbdd"/></g><polygon points="243.3,676.7 288.0,642.7 292.0,645.4 246.9,679.7" fill="#d3d6d8" stroke="#a5a9ac" stroke-width="0.6" /><rect x="175.8" y="728.5" width="3.4" height="5" rx="1" fill="#7e8286"/><rect x="287.4" y="643.4" width="3.4" height="5" rx="1" fill="#7e8286"/><polygon points="152.5,726.7 284.9,627.5 297.5,635.5 162.0,738.5" fill="#e2e4e5" stroke="#8f9397" stroke-width="0.8" /><polygon points="159.3,735.2 294.0,633.3 297.5,635.5 162.0,738.5" fill="#d0d3d5" stroke="none" stroke-width="0.5" /><polygon points="233.8,668.7 280.3,633.8 286.2,637.7 239.2,673.3" fill="#a7abae" stroke="#8d9195" stroke-width="0.5" /><polygon points="238.7,668.6 281.4,636.4 284.7,638.6 241.7,671.1" fill="#c9ccce" stroke="none" stroke-width="0.5" /><polygon points="152.5,726.7 163.1,718.8 172.8,730.3 162.0,738.5" fill="#eef0f0" stroke="#b5b8bb" stroke-width="0.4" /><polygon points="164.3,720.1 226.7,673.3 232.7,678.5 169.5,726.4" fill="#e9ebec" stroke="#cfd2d4" stroke-width="0.4" /><g transform="translate(210.5,721.3) rotate(-34.6)"><rect x="-3" y="-4.0" width="75.7" height="8" rx="4.0" fill="#dfe1e3" stroke="#b3b6b9" stroke-width="0.6"/><rect x="5.6" y="-1.2" width="20.9" height="2.4" rx="1" fill="#a7abae"/><rect x="41.8" y="-1.2" width="22.3" height="2.4" rx="1" fill="#a7abae"/></g><g transform="translate(235.0,700.0) rotate(-34.6)"><rect x="-7" y="-6" width="14" height="11" rx="1.5" fill="#c3c6c9" stroke="#a7abae" stroke-width="0.5"/><rect x="-7" y="-6" width="14" height="4" fill="#d9dbdd"/></g><polygon points="268.7,716.2 320.7,677.7 325.4,682.8 272.6,721.4" fill="#cdd0d3" stroke="#aeb1b4" stroke-width="0.6" /><ellipse cx="296.5" cy="708.7" rx="9.5" ry="8.1" fill="#5e6266"/><ellipse cx="294.0" cy="706.2" rx="5.2" ry="4.0" fill="#7a7e82"/><ellipse cx="298.5" cy="713.0" rx="3.6" ry="2.1" fill="#ffffff" opacity="0.45"/><polygon points="169.4,772.7 325.0,653.8 338.2,667.0 175.2,787.4" fill="#dcdee0" stroke="#8c9094" stroke-width="0.9" /><polygon points="174.0,784.5 335.6,664.4 338.2,667.0 175.2,787.4" fill="#c3c6c9" stroke="none" stroke-width="0.5" /><polygon points="172.9,771.2 322.7,657.0 332.3,666.8 177.3,782.1" fill="#e7e9ea" stroke="none" stroke-width="0.5" /><polygon points="172.9,771.2 322.7,657.0 323.7,658.0 173.3,772.4" fill="#f3f4f4" stroke="none" stroke-width="0.5" /><polygon points="186.3,763.7 239.7,723.2 244.6,730.8 189.8,771.6" fill="#9a9ea2" stroke="#85898d" stroke-width="0.6" /><polygon points="191.5,763.6 240.7,726.6 243.6,731.1 193.7,768.3" fill="#d3d6d8" stroke="none" stroke-width="0.5" /><circle cx="180.9" cy="773.0" r="4.3" fill="#c9cccf" stroke="#a3a7aa" stroke-width="0.6"/><circle cx="180.9" cy="773.0" r="2.4" fill="#ffffff" stroke="#7f8387" stroke-width="0.6"/><circle cx="323.4" cy="665.9" r="4.0" fill="#c9cccf" stroke="#a3a7aa" stroke-width="0.6"/><circle cx="323.4" cy="665.9" r="2.3" fill="#ffffff" stroke="#7f8387" stroke-width="0.6"/><polygon points="260.1,707.7 275.0,696.4 281.0,704.0 265.7,715.4" fill="#eeefef" stroke="#a5a9ac" stroke-width="0.6" /><polygon points="275.4,696.9 295.1,682.0 300.9,688.8 280.8,703.8" fill="#9ea2a6" stroke="none" stroke-width="0.5" /><polygon points="284.9,694.4 297.6,684.9 300.9,688.8 288.1,698.4" fill="#cfd2d4" stroke="none" stroke-width="0.5" /><polygon points="294.7,681.5 306.4,672.5 313.3,680.0 301.2,689.0" fill="#e9eaeb" stroke="#a5a9ac" stroke-width="0.6" /><polygon points="307.7,673.9 316.3,667.3 321.6,672.9 312.8,679.5" fill="#dc5e45" stroke="none" stroke-width="0.5" /><polygon points="264.7,933.4 325.0,887.5 333.7,893.0 271.8,940.1" fill="#cdd0d3" stroke="#aeb1b4" stroke-width="0.6" /><ellipse cx="299.4" cy="926.1" rx="9.5" ry="8.1" fill="#5e6266"/><ellipse cx="296.9" cy="923.6" rx="5.2" ry="4.0" fill="#7a7e82"/><ellipse cx="301.4" cy="930.3" rx="3.6" ry="2.1" fill="#ffffff" opacity="0.45"/><polygon points="145.2,995.7 322.2,861.0 346.3,874.5 156.4,1019.0" fill="#dcdee0" stroke="#8c9094" stroke-width="0.9" /><polygon points="154.2,1014.3 341.5,871.8 346.3,874.5 156.4,1019.0" fill="#c3c6c9" stroke="none" stroke-width="0.5" /><polygon points="149.4,994.4 320.1,864.5 337.7,874.7 157.9,1011.5" fill="#e7e9ea" stroke="none" stroke-width="0.5" /><polygon points="149.4,994.4 320.1,864.5 322.0,865.6 150.3,996.2" fill="#f3f4f4" stroke="none" stroke-width="0.5" /><polygon points="165.4,986.7 226.5,940.2 235.6,950.5 172.1,998.7" fill="#9a9ea2" stroke="#85898d" stroke-width="0.6" /><polygon points="172.5,987.7 228.9,944.7 234.3,950.8 176.6,994.8" fill="#d3d6d8" stroke="none" stroke-width="0.5" /><circle cx="160.5" cy="999.0" r="4.3" fill="#c9cccf" stroke="#a3a7aa" stroke-width="0.6"/><circle cx="160.5" cy="999.0" r="2.4" fill="#ffffff" stroke="#7f8387" stroke-width="0.6"/><circle cx="324.6" cy="874.2" r="4.0" fill="#c9cccf" stroke="#a3a7aa" stroke-width="0.6"/><circle cx="324.6" cy="874.2" r="2.3" fill="#ffffff" stroke="#7f8387" stroke-width="0.6"/><polygon points="249.8,922.5 266.9,909.5 277.9,918.9 260.2,932.4" fill="#eeefef" stroke="#a5a9ac" stroke-width="0.6" /><polygon points="267.7,910.2 290.2,893.0 300.9,900.8 277.5,918.5" fill="#9ea2a6" stroke="none" stroke-width="0.5" /><polygon points="280.0,907.4 294.7,896.3 300.9,900.8 285.9,912.2" fill="#cfd2d4" stroke="none" stroke-width="0.5" /><polygon points="289.3,892.4 302.8,882.1 315.3,890.4 301.3,901.1" fill="#e9eaeb" stroke="#a5a9ac" stroke-width="0.6" /><polygon points="305.0,883.6 315.0,876.1 324.6,882.1 314.4,889.9" fill="#dd5660" stroke="none" stroke-width="0.5" /><rect x="262" y="937" width="12" height="7" rx="2" fill="#8d9195" transform="rotate(-37 268 940)"/><rect x="283" y="922" width="10" height="6" rx="2" fill="#9a9ea2" transform="rotate(-37 288 925)"/><line x1="252" y1="946" x2="256" y2="958" stroke="#6d7175" stroke-width="1.3"/><ellipse cx="240" cy="920" rx="10" ry="7" fill="#dfe2e4" stroke="#8a8e92" stroke-width="1.3" transform="rotate(-20 240 920)"/><ellipse cx="247" cy="913" rx="7.5" ry="5" fill="none" stroke="#9ea2a6" stroke-width="1.2" transform="rotate(-15 247 913)"/><path d="M229,911 L244,914" stroke="#8a8e92" stroke-width="1.2"/><circle cx="245" cy="934" r="9.5" fill="#d6d9db" stroke="#8f9397" stroke-width="0.8"/><circle cx="245" cy="934" r="6" fill="#b9bdc0" stroke="#85898d" stroke-width="0.6"/><rect x="241" y="932.5" width="8" height="2.5" fill="#5f6367" transform="rotate(-40 245 934)"/><g transform="translate(237.4,1000.6) rotate(-37.3)"><rect x="-3" y="-4.0" width="90.6" height="8" rx="4.0" fill="#dfe1e3" stroke="#b3b6b9" stroke-width="0.6"/><rect x="6.8" y="-1.2" width="25.4" height="2.4" rx="1" fill="#a7abae"/><rect x="50.7" y="-1.2" width="27.1" height="2.4" rx="1" fill="#a7abae"/></g><g transform="translate(265.0,973.0) rotate(-37.3)"><rect x="-7" y="-6" width="14" height="11" rx="1.5" fill="#c3c6c9" stroke="#a7abae" stroke-width="0.5"/><rect x="-7" y="-6" width="14" height="4" fill="#d9dbdd"/></g></g>
</svg>
</body></html>
